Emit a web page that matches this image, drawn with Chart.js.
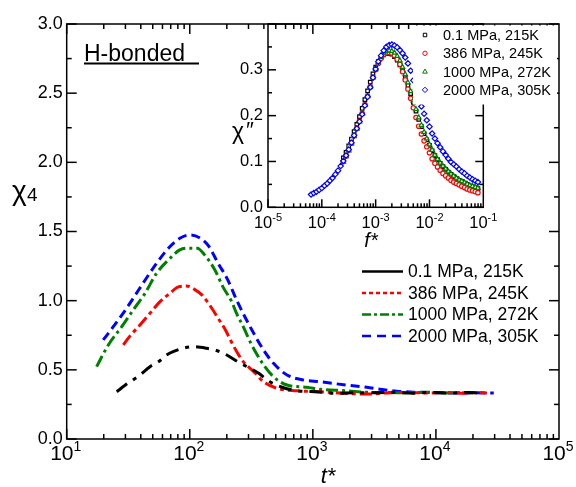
<!DOCTYPE html>
<html>
<head>
<meta charset="utf-8">
<script src="https://cdn.jsdelivr.net/npm/chart.js@4/dist/chart.umd.min.js"></script>
<style>
  body { margin: 0; background: #fff; }
  #wrap { position: relative; width: 576px; height: 487px; }
  #mainChart { position: absolute; left: 0; top: 0; }
  #insetChart { position: absolute; left: 200px; top: 0; }
</style>
</head>
<body>
<div id="wrap">
  <canvas id="mainChart" width="576" height="487"></canvas>
  <canvas id="insetChart" width="376" height="260"></canvas>
</div>
<script>
// ---- main panel: chi4 vs t* ----
const seriesLabels = ['0.1 MPa, 215K', '386 MPa, 245K', '1000 MPa, 272K', '2000 MPa, 305K'];

const tBlack = [25.5, 30, 35, 39.4, 47.5, 56, 64.6, 75, 88.5, 107, 137, 165, 200, 245, 309, 363, 447, 562, 741, 1070, 1550, 2200, 3200, 4500, 6500, 9000, 13000, 18000, 22000];
const chiBlack = [0.342, 0.39, 0.43, 0.463, 0.523, 0.56, 0.607, 0.635, 0.656, 0.667, 0.656, 0.64, 0.607, 0.559, 0.511, 0.475, 0.414, 0.374, 0.349, 0.342, 0.330, 0.335, 0.334, 0.338, 0.331, 0.336, 0.333, 0.337, 0.333];

const tRed = [28.8, 33, 39.4, 47.5, 57.3, 69, 80.7, 94, 110, 126, 151, 170, 195, 214, 245, 272, 331, 398, 513, 741, 1150, 1860, 2750, 4000, 6000, 8500, 12000, 17000, 21000, 26000];
const chiRed = [0.68, 0.75, 0.824, 0.909, 0.993, 1.053, 1.10, 1.106, 1.08, 1.04, 0.945, 0.873, 0.788, 0.716, 0.62, 0.559, 0.487, 0.414, 0.366, 0.349, 0.342, 0.330, 0.325, 0.333, 0.337, 0.332, 0.336, 0.331, 0.336, 0.332];

const tGreen = [17.5, 21.8, 28, 34.7, 43.3, 53.7, 67, 83, 95, 115, 132, 160, 186, 219, 240, 272, 309, 347, 398, 479, 617, 891, 1150, 1860, 2750, 4000, 6000, 8500, 12000, 17000, 20000];
const chiGreen = [0.523, 0.68, 0.812, 0.933, 1.053, 1.198, 1.294, 1.367, 1.379, 1.379, 1.331, 1.222, 1.10, 0.993, 0.908, 0.812, 0.704, 0.62, 0.535, 0.45, 0.39, 0.374, 0.359, 0.349, 0.338, 0.336, 0.334, 0.338, 0.333, 0.336, 0.334];

const tBlue = [19.8, 23.9, 28.8, 34.7, 41.7, 53.7, 67, 83, 100, 120, 141, 170, 204, 240, 309, 398, 479, 617, 832, 1150, 1860, 2750, 3500, 4800, 7000, 10000, 15000, 21000, 29500];
const chiBlue = [0.716, 0.812, 0.91, 1.017, 1.126, 1.27, 1.379, 1.451, 1.475, 1.455, 1.40, 1.27, 1.149, 1.005, 0.812, 0.643, 0.547, 0.463, 0.427, 0.414, 0.39, 0.374, 0.36, 0.345, 0.338, 0.335, 0.332, 0.334, 0.332];

const xDecades = [1, 2, 3, 4, 5];           // 10^1 .. 10^5
const yTickValues = [0, 0.5, 1, 1.5, 2, 2.5, 3];

// ---- inset: chi'' vs f* ----
const fStar = [6.31e-5, 7.08e-5, 7.94e-5, 8.91e-5, 1.00e-4, 1.12e-4, 1.26e-4, 1.41e-4, 1.58e-4, 1.78e-4,
  2.00e-4, 2.24e-4, 2.51e-4, 2.82e-4, 3.16e-4, 3.55e-4, 3.98e-4, 4.47e-4, 5.01e-4, 5.62e-4,
  6.31e-4, 7.08e-4, 7.94e-4, 8.91e-4, 1.00e-3, 1.12e-3, 1.26e-3, 1.41e-3, 1.58e-3, 1.78e-3,
  2.00e-3, 2.24e-3, 2.51e-3, 2.82e-3, 3.16e-3, 3.55e-3, 3.98e-3, 4.47e-3, 5.01e-3, 5.62e-3,
  6.31e-3, 7.08e-3, 7.94e-3, 8.91e-3, 1.00e-2, 1.12e-2, 1.26e-2, 1.41e-2, 1.58e-2, 1.78e-2,
  2.00e-2, 2.24e-2, 2.51e-2, 2.82e-2, 3.16e-2, 3.55e-2, 3.98e-2, 4.47e-2, 5.01e-2, 5.62e-2,
  6.31e-2, 7.08e-2, 7.94e-2];

// black, red, green start at fStar[12]
const lossBlack = [0.108, 0.120, 0.134, 0.149, 0.165, 0.181, 0.198, 0.216, 0.235, 0.254, 0.273, 0.291, 0.306, 0.318, 0.327, 0.333, 0.336, 0.336,
  0.334, 0.329, 0.321, 0.311, 0.298, 0.283, 0.266, 0.248, 0.229, 0.210, 0.192, 0.176, 0.161, 0.147, 0.135, 0.123, 0.113, 0.104, 0.096, 0.089,
  0.083, 0.077, 0.072, 0.067, 0.063, 0.059, 0.056, 0.053, 0.050, 0.047, 0.045, 0.043, 0.041];
const lossRed = [0.100, 0.112, 0.125, 0.140, 0.156, 0.172, 0.188, 0.205, 0.224, 0.243, 0.263, 0.283, 0.300, 0.314, 0.325, 0.333, 0.337, 0.338,
  0.336, 0.331, 0.323, 0.312, 0.296, 0.278, 0.258, 0.238, 0.217, 0.196, 0.177, 0.160, 0.145, 0.132, 0.119, 0.106, 0.096, 0.088, 0.081, 0.074,
  0.069, 0.064, 0.059, 0.055, 0.052, 0.049, 0.046, 0.043, 0.040, 0.038, 0.036, 0.034, 0.032];
const lossGreen = [0.099, 0.111, 0.124, 0.139, 0.155, 0.171, 0.187, 0.204, 0.223, 0.242, 0.262, 0.283, 0.301, 0.316, 0.328, 0.337, 0.341, 0.342,
  0.341, 0.337, 0.330, 0.320, 0.306, 0.290, 0.272, 0.253, 0.233, 0.214, 0.196, 0.179, 0.164, 0.150, 0.137, 0.125, 0.114, 0.105, 0.097, 0.090,
  0.084, 0.078, 0.073, 0.068, 0.064, 0.060, 0.057, 0.054, 0.051, 0.048, 0.046, 0.044, 0.042];
const lossBlue = [0.028, 0.031, 0.034, 0.038, 0.042, 0.047, 0.052, 0.058, 0.064, 0.072, 0.080, 0.090,
  0.101, 0.113, 0.126, 0.141, 0.157, 0.172, 0.187, 0.203, 0.222, 0.241, 0.262, 0.283, 0.302, 0.318, 0.331, 0.342, 0.350, 0.354,
  0.355, 0.353, 0.349, 0.343, 0.336, 0.327, 0.314, 0.298, 0.277, 0.257, 0.238, 0.220, 0.204, 0.190, 0.176, 0.161, 0.150, 0.140, 0.131, 0.122,
  0.114, 0.106, 0.099, 0.094, 0.089, 0.083, 0.078, 0.074, 0.069, 0.065, 0.061, 0.058, 0.055];

const insetDecades = [-5, -4, -3, -2, -1];
const insetYTicks = [0, 0.1, 0.2, 0.3];

const colors = ['#000000', '#ff0000', '#008000', '#0000ff'];
const FONT = '"Liberation Sans", Arial, sans-serif';

function pts(xs, ys) {
    return xs.map((x, i) => ({ x: x, y: ys[i] }));
}

function drawSup(ctx, cx, baseline, base, sup, baseSize, supSize, raise) {
    ctx.font = baseSize + 'px ' + FONT;
    const wb = ctx.measureText(base).width;
    ctx.font = supSize + 'px ' + FONT;
    const ws = ctx.measureText(sup).width;
    const start = cx - (wb + ws) / 2;
    ctx.textAlign = 'left';
    ctx.textBaseline = 'alphabetic';
    ctx.font = baseSize + 'px ' + FONT;
    ctx.fillText(base, start, baseline);
    ctx.font = supSize + 'px ' + FONT;
    ctx.fillText(sup, start + wb, baseline - raise);
}

function seg(ctx, x1, y1, x2, y2) {
    ctx.beginPath();
    ctx.moveTo(x1, y1);
    ctx.lineTo(x2, y2);
    ctx.stroke();
}

// frame, inward ticks, tick labels, titles and legend for the main panel
const mainDecor = {
    id: 'mainDecor',
    afterDraw(chart) {
        const { ctx, chartArea: a, scales: { x, y } } = chart;
        ctx.save();
        ctx.strokeStyle = '#000';
        ctx.fillStyle = '#000';
        ctx.lineWidth = 1.5;
        ctx.setLineDash([]);
        ctx.strokeRect(a.left, a.top, a.right - a.left, a.bottom - a.top);

        // x ticks on bottom and top
        for (let d = 1; d < 5; d++) {
            for (let m = 1; m < 10; m++) {
                const px = x.getPixelForValue(m * Math.pow(10, d));
                const len = m === 1 ? 10 : 5;
                seg(ctx, px, a.bottom, px, a.bottom - len);
                seg(ctx, px, a.top, px, a.top + len);
            }
        }
        // y ticks on left and right
        for (let v = 0; v <= 3.001; v += 0.25) {
            const py = y.getPixelForValue(v);
            const major = Math.abs(v * 2 - Math.round(v * 2)) < 1e-6;
            const len = major ? 10 : 5;
            seg(ctx, a.left, py, a.left + len, py);
            seg(ctx, a.right, py, a.right - len, py);
        }

        // x tick labels 10^n
        xDecades.forEach(n => {
            const px = x.getPixelForValue(Math.pow(10, n));
            drawSup(ctx, px - 1, a.bottom + 21, '10', String(n), 21, 14, 9);
        });

        // axis titles
        ctx.font = 'italic 22px ' + FONT;
        ctx.textAlign = 'center';
        ctx.textBaseline = 'alphabetic';
        ctx.fillText('t*', 328, 483);

        ctx.textAlign = 'left';
        ctx.font = '28px ' + FONT;
        ctx.fillText('\u03c7', 12, 200);
        ctx.font = '19px ' + FONT;
        ctx.fillText('4', 27, 201);

        // panel label
        ctx.font = '23px ' + FONT;
        ctx.fillText('H-bonded', 84, 61);
        ctx.lineWidth = 2;
        seg(ctx, 84, 63.5, 199, 63.5);

        // legend
        const legendDash = [[], [4, 3], [9, 3, 3, 3], [9, 6]];
        ctx.font = '17.5px ' + FONT;
        ctx.textBaseline = 'middle';
        seriesLabels.forEach((lab, i) => {
            const ly = 271.5 + 21.5 * i;
            ctx.strokeStyle = colors[i];
            ctx.lineWidth = 2.5;
            ctx.setLineDash(legendDash[i]);
            seg(ctx, 362, ly, 403, ly);
            ctx.setLineDash([]);
            ctx.fillStyle = '#000';
            ctx.fillText(lab, 408, ly + 1);
        });
        ctx.restore();
    }
};

const mainDash = [[13, 7, 4, 7], [12, 4, 4, 4], [12, 4, 3, 4], [9, 5]];
const mainSeries = [pts(tBlack, chiBlack), pts(tRed, chiRed), pts(tGreen, chiGreen), pts(tBlue, chiBlue)];

new Chart(document.getElementById('mainChart'), {
    type: 'line',
    data: {
        datasets: mainSeries.map((d, i) => ({
            label: seriesLabels[i],
            data: d,
            borderColor: colors[i],
            borderWidth: 3,
            borderDash: mainDash[i],
            pointRadius: 0,
            fill: false,
            cubicInterpolationMode: 'monotone'
        }))
    },
    options: {
        responsive: false,
        animation: false,
        devicePixelRatio: 1,
        layout: { padding: { top: 24, right: 17, left: 0, bottom: 0 } },
        plugins: { legend: { display: false }, tooltip: { enabled: false } },
        scales: {
            x: {
                type: 'logarithmic',
                min: 10,
                max: 100000,
                ticks: { display: false },
                grid: { display: false },
                border: { display: false },
                afterFit(s) { s.height = 48; }
            },
            y: {
                min: 0,
                max: 3,
                afterBuildTicks(s) { s.ticks = yTickValues.map(v => ({ value: v })); },
                ticks: {
                    color: '#000',
                    font: { family: FONT, size: 18 },
                    padding: 4,
                    callback: v => v.toFixed(1)
                },
                grid: { display: false, drawTicks: false },
                border: { display: false },
                afterFit(s) { s.width = 66.7; }
            }
        }
    },
    plugins: [mainDecor]
});

// ---- inset ----
function marker(ctx, style, x, y, r) {
    ctx.beginPath();
    if (style === 'rect') {
        ctx.rect(x - r * 0.7, y - r * 0.7, r * 1.4, r * 1.4);
    } else if (style === 'circle') {
        ctx.arc(x, y, r, 0, Math.PI * 2);
    } else if (style === 'triangle') {
        ctx.moveTo(x, y - r);
        ctx.lineTo(x + r * 0.9, y + r * 0.6);
        ctx.lineTo(x - r * 0.9, y + r * 0.6);
        ctx.closePath();
    } else {
        ctx.moveTo(x, y - r);
        ctx.lineTo(x + r, y);
        ctx.lineTo(x, y + r);
        ctx.lineTo(x - r, y);
        ctx.closePath();
    }
    ctx.fill();
    ctx.stroke();
}

const insetStyles = ['rect', 'circle', 'triangle', 'rectRot'];
const insetRadius = [2.5, 2.2, 2.6, 2.7];

const insetDecor = {
    id: 'insetDecor',
    afterDraw(chart) {
        const { ctx, chartArea: a, scales: { x, y } } = chart;
        ctx.save();
        ctx.strokeStyle = '#000';
        ctx.fillStyle = '#000';
        ctx.lineWidth = 1.5;
        ctx.strokeRect(a.left, a.top, a.right - a.left, a.bottom - a.top);

        for (let d = -5; d < -1; d++) {
            for (let m = 1; m < 10; m++) {
                const px = x.getPixelForValue(m * Math.pow(10, d));
                const len = m === 1 ? 8 : 4;
                seg(ctx, px, a.bottom, px, a.bottom - len);
            }
        }
        for (let v = 0; v <= 0.401; v += 0.05) {
            const py = y.getPixelForValue(v);
            const major = Math.abs(v * 10 - Math.round(v * 10)) < 1e-6;
            const len = major ? 8 : 4;
            seg(ctx, a.left, py, a.left + len, py);
            seg(ctx, a.right, py, a.right - len, py);
        }

        insetDecades.forEach(n => {
            const px = x.getPixelForValue(Math.pow(10, n));
            drawSup(ctx, px, a.bottom + 21, '10', String(n), 16.5, 11, 7);
        });

        ctx.textAlign = 'center';
        ctx.font = 'italic 20px ' + FONT;
        ctx.fillText('f*', 171, 247);

        ctx.textAlign = 'left';
        ctx.font = '23px ' + FONT;
        ctx.fillText('\u03c7', 32, 139);
        ctx.font = 'italic 22px ' + FONT;
        ctx.fillText('\u2033', 45, 137);

        // legend box hides the top-right corner of the inset frame
        ctx.fillStyle = '#fff';
        ctx.fillRect(213, 25.5, 144, 79);
        ctx.font = '14.5px ' + FONT;
        ctx.textBaseline = 'middle';
        seriesLabels.forEach((lab, i) => {
            const ly = 35 + 18.3 * i;
            ctx.fillStyle = '#fff';
            ctx.strokeStyle = colors[i];
            ctx.lineWidth = 1;
            marker(ctx, insetStyles[i], 225, ly, insetRadius[i]);
            ctx.fillStyle = '#000';
            ctx.fillText(lab, 243, ly + 1);
        });
        ctx.restore();
    }
};

const fOthers = fStar.slice(12);
const insetSeries = [pts(fOthers, lossBlack), pts(fOthers, lossRed), pts(fOthers, lossGreen), pts(fStar, lossBlue)];

new Chart(document.getElementById('insetChart'), {
    type: 'scatter',
    data: {
        datasets: insetSeries.map((d, i) => ({
            label: seriesLabels[i],
            data: d,
            pointStyle: insetStyles[i],
            pointRadius: insetRadius[i],
            borderColor: colors[i],
            backgroundColor: '#ffffff',
            borderWidth: 1.2,
            order: 3 - i
        }))
    },
    options: {
        responsive: false,
        animation: false,
        devicePixelRatio: 1,
        layout: { padding: { top: 24, right: 92.7, left: 0, bottom: 0 } },
        plugins: { legend: { display: false }, tooltip: { enabled: false } },
        scales: {
            x: {
                type: 'logarithmic',
                min: 1e-5,
                max: 1e-1,
                ticks: { display: false },
                grid: { display: false },
                border: { display: false },
                afterFit(s) { s.height = 52.7; }
            },
            y: {
                min: 0,
                max: 0.4,
                afterBuildTicks(s) { s.ticks = insetYTicks.map(v => ({ value: v })); },
                ticks: {
                    color: '#000',
                    font: { family: FONT, size: 16.5 },
                    padding: 5,
                    callback: v => v.toFixed(1)
                },
                grid: { display: false, drawTicks: false },
                border: { display: false },
                afterFit(s) { s.width = 68; }
            }
        }
    },
    plugins: [insetDecor]
});
</script>
</body>
</html>
